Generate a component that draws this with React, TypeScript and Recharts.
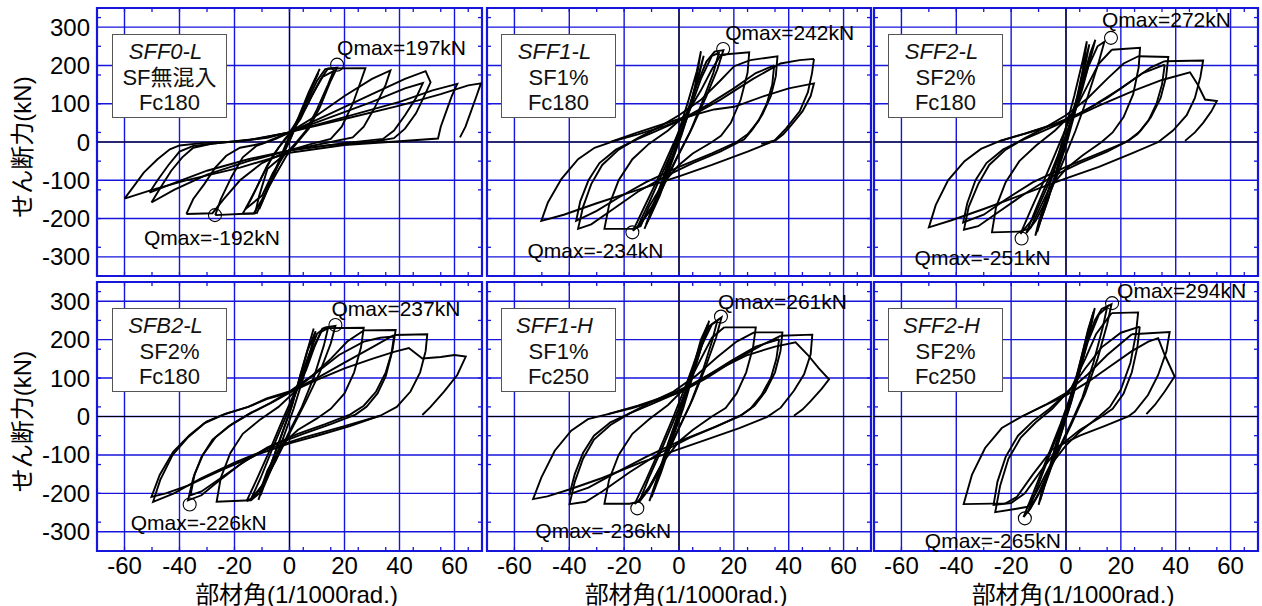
import React from 'react';
import { LineChart, Line, XAxis, YAxis, CartesianGrid, ReferenceLine, ReferenceArea, ReferenceDot } from 'recharts';

type Pt = [number, number];

// axis ticks
const ANGLE_TICKS = [-60, -40, -20, 0, 20, 40, 60];
const ANGLE_MINOR = [-65, -60, -55, -50, -45, -40, -35, -30, -25, -20, -15, -10, -5, 0, 5, 10, 15, 20, 25, 30, 35, 40, 45, 50, 55, 60, 65];
const SHEAR_TICKS = [-300, -200, -100, 0, 100, 200, 300];
const SHEAR_MINOR = [-325, -300, -275, -250, -225, -200, -175, -150, -125, -100, -75, -50, -25, 0, 25, 50, 75, 100, 125, 150, 175, 200, 225, 250, 275, 300, 325];

// specimen info
const SPECIMENS = ['SFF0-L', 'SFF1-L', 'SFF2-L', 'SFB2-L', 'SFF1-H', 'SFF2-H'];
const FIBER = ['SF無混入', 'SF1%', 'SF2%', 'SF2%', 'SF1%', 'SF2%'];
const STRENGTH = ['Fc180', 'Fc180', 'Fc180', 'Fc180', 'Fc250', 'Fc250'];
const QMAX_POS = [197, 242, 272, 237, 261, 294];
const QMAX_NEG = [-192, -234, -251, -226, -236, -265];
const QMAX_POS_AT: Pt[] = [[17.3, 202], [16.1, 243], [16.4, 272], [16.7, 238], [15.3, 260], [16.8, 295]];
const QMAX_NEG_AT: Pt[] = [[-27.1, -191], [-17, -236], [-16.2, -252], [-36.3, -229], [-15.2, -239], [-15, -265]];

// hysteresis loops, [rotation angle, shear force]
const SFF0L: Pt[][] = [
  [[-12, -188], [-9, -140], [-5, -70], [-1, 0], [3, 60], [7, 130], [11, 191], [9, 160], [5, 90], [1, 20], [-3, -40], [-7, -100], [-10, -155], [-12, -188]],
  [[-11, -175], [-8, -125], [-4, -55], [0, 10], [4, 75], [8, 140], [10.5, 180], [8.5, 150], [4.5, 80], [0.5, 10], [-3.5, -50], [-7.5, -115], [-11, -175]],
  [[-17, -187], [-14, -150], [-10, -90], [-6, -35], [-2, 5], [2, 40], [6, 100], [10, 160], [13, 190], [17.3, 194], [15, 160], [11, 90], [7, 35], [3, 0], [-1, -35], [-5, -85], [-10, -150], [-13, -187], [-17, -187]],
  [[-16, -175], [-12, -120], [-8, -60], [-4, -15], [0, 20], [4, 60], [8, 120], [12, 170], [16, 185], [14, 150], [10, 85], [6, 30], [2, -5], [-2, -35], [-6, -80], [-10, -140], [-16, -175]],
  [[-27, -191], [-25, -150], [-21, -90], [-17, -40], [-12, -10], [-5, 8], [0, 25], [6, 90], [11, 160], [14, 192], [27.6, 193], [26, 160], [23, 100], [19, 40], [15, 8], [8, -5], [0, -22], [-8, -70], [-11, -140], [-12.5, -186], [-27, -191]],
  [[-37.5, -188], [-35, -149], [-31, -110], [-27, -67], [-23, -36], [-18, -15], [-10, -4], [0, 25], [10, 70], [20, 120], [30, 165], [36.7, 187], [35, 150], [31, 90], [27, 40], [23, 12], [15, 0], [0, -22], [-10, -55], [-18, -100], [-24, -150], [-28, -186], [-37.5, -188]],
  [[-50.2, -158], [-47, -120], [-43, -75], [-39, -40], [-35, -15], [-28, -4], [-15, 5], [0, 25], [15, 75], [30, 125], [42, 165], [49.5, 185], [51.3, 156], [49, 120], [46, 75], [42, 35], [38, 10], [30, 0], [15, -8], [0, -22], [-15, -50], [-30, -85], [-42, -125], [-50.2, -158]],
  [[-50.9, -132], [-48, -100], [-44, -60], [-40, -25], [-35, -10], [-25, -2], [-12, 8], [0, 25], [15, 65], [30, 105], [42, 140], [48.5, 154], [46, 115], [42, 70], [38, 30], [34, 8], [20, -3], [0, -22], [-15, -45], [-30, -75], [-43, -110], [-50.9, -132]],
  [[-60, -148], [-57, -119], [-53, -80], [-48, -45], [-43.5, -19], [-40, -9], [-32, -3], [-20, 1], [-8, 11], [0, 26], [20, 65], [40, 105], [52, 135], [61, 152], [59, 120], [57, 80], [55, 40], [54, 9], [40, 2], [20, -8], [0, -28], [-18, -67], [-38, -101], [-50, -125], [-60, -148]],
  [[0, 26], [20, 60], [40, 95], [55, 125], [65, 148], [69.6, 153], [68, 120], [66, 80], [64, 40], [62, 12]],
];

const SFF1L: Pt[][] = [
  [[-12.6, -227], [-9, -165], [-5, -90], [-1, -15], [3, 65], [6, 150], [8, 237], [6.5, 185], [3.5, 110], [0, 30], [-4, -55], [-8, -140], [-11, -200], [-12.6, -227]],
  [[-12, -215], [-8.5, -150], [-4.5, -75], [-0.5, 0], [3.5, 80], [6.5, 160], [9, 225], [7.5, 180], [4.5, 100], [1, 20], [-3, -60], [-7, -140], [-10.5, -195], [-12, -215]],
  [[-16.8, -232], [-13, -175], [-8, -100], [-3, -20], [2, 60], [6, 140], [10, 210], [13, 236], [16.2, 240], [14, 190], [10, 120], [5, 40], [0, -30], [-5, -100], [-10, -170], [-14, -215], [-16.8, -232]],
  [[-15, -220], [-11, -160], [-6, -80], [-1, 0], [4, 85], [8, 165], [12, 225], [14.5, 232], [12.5, 180], [8.5, 105], [4, 25], [-1, -45], [-6, -120], [-11, -185], [-15, -220]],
  [[15.3, 228], [25.6, 234], [25, 181], [22.5, 111], [18.9, 50], [15.3, 16], [11.6, -2], [5, -30], [0, -60], [-6, -110], [-11, -170], [-14, -220], [-17, -227], [-27.2, -227], [-25.5, -165], [-22, -100], [-17, -45], [-11, -5], [-4, 30], [3, 75], [8, 135], [12, 190], [15.3, 228]],
  [[26, 214], [35.9, 224], [35.3, 172], [33.5, 120], [30.4, 72], [26.8, 33], [23.8, 7], [15, -25], [5, -55], [-5, -90], [-15, -130], [-25, -180], [-32, -215], [-36.8, -227], [-35, -170], [-32, -110], [-28, -60], [-22, -20], [-15, 10], [-7, 40], [0, 70], [8, 110], [15, 160], [20.1, 198], [26, 214]],
  [[34.7, 200], [34, 150], [32, 100], [29, 55], [25, 20], [21, 0], [12, -30], [0, -65], [-12, -105], [-22, -145], [-30, -180], [-37.5, -206], [-36, -155], [-33, -100], [-29, -55], [-23, -20], [-16, 5], [-8, 30], [0, 55], [10, 95], [20, 140], [28, 180], [34.7, 200]],
  [[49.2, 217], [48.5, 180], [47, 130], [44, 80], [39, 35], [34.7, 3], [25, -25], [12, -60], [0, -90], [-15, -125], [-30, -160], [-42, -190], [-50.2, -206], [-47.8, -158], [-42.9, -97], [-36.8, -45], [-30.8, -15], [-23.5, 3], [-15, 20], [-5, 42], [5, 70], [15, 110], [27, 165], [37, 205], [44, 214], [49.2, 217]],
  [[-25, 0], [-15, 25], [0, 60], [12.8, 85], [20.1, 92], [31, 120], [40, 140], [49.2, 153], [48, 120], [45, 80], [41, 45], [38, 20], [35.3, 5], [30, -5]],
];

const SFF2L: Pt[][] = [
  [[-11.2, -245], [-8, -180], [-4, -95], [0, -10], [3, 70], [6, 180], [7.6, 263], [6, 210], [3, 120], [0, 40], [-3, -40], [-7, -140], [-10, -210], [-11.2, -245]],
  [[-10.5, -235], [-7.5, -165], [-3.5, -80], [0.5, 10], [3.5, 100], [6.5, 200], [8.5, 255], [7, 200], [4, 110], [0.5, 20], [-3, -60], [-6.5, -150], [-9.5, -210], [-10.5, -235]],
  [[-16.6, -240], [-13, -180], [-8, -100], [-3, -15], [2, 70], [6, 160], [9, 235], [10.7, 267], [9, 220], [6, 140], [2, 50], [-2, -30], [-7, -120], [-12, -200], [-16.6, -240]],
  [[-14.5, -238], [-11, -175], [-6, -90], [-1, 0], [4, 100], [8, 195], [11.5, 250], [14, 262], [12, 210], [8, 120], [3.5, 30], [-1, -50], [-6, -135], [-11, -205], [-14.5, -238]],
  [[16.7, 241], [27, 246], [26.5, 195], [24.5, 125], [21, 65], [17, 25], [13, 0], [6, -35], [0, -70], [-6, -120], [-10, -180], [-13, -225], [-17, -234], [-27, -236], [-25.5, -170], [-22, -105], [-17, -50], [-11, -10], [-4, 30], [3, 80], [8, 150], [12, 205], [16.7, 241]],
  [[26.4, 224], [37.3, 222], [36.5, 170], [34.5, 115], [31, 65], [27, 28], [23, 5], [15, -25], [5, -55], [-5, -90], [-15, -135], [-25, -185], [-32, -220], [-37.2, -229], [-35.5, -170], [-32, -110], [-28, -60], [-22, -20], [-15, 10], [-7, 40], [0, 70], [8, 115], [15, 165], [21, 205], [26.4, 224]],
  [[36, 202], [35, 150], [33, 100], [30, 55], [26, 20], [22, 0], [12, -30], [0, -65], [-12, -105], [-22, -150], [-30, -190], [-37.5, -210], [-36, -160], [-33, -100], [-29, -55], [-23, -20], [-16, 5], [-8, 30], [0, 55], [10, 95], [20, 140], [28, 180], [36, 202]],
  [[36, 211], [50, 213], [49, 170], [47, 115], [44, 70], [39, 30], [33.7, 0], [24, -30], [12, -65], [0, -95], [-15, -135], [-30, -175], [-42, -205], [-50, -223], [-47.5, -165], [-43, -100], [-37, -50], [-31, -18], [-24, 3], [-15, 22], [-5, 45], [5, 75], [15, 115], [25, 165], [31, 195], [36, 211]],
  [[-24, 3], [-12, 28], [0, 55], [12, 95], [25, 135], [35, 162], [45.2, 182], [48, 150], [50.7, 111], [55, 107], [53, 80], [50, 50], [47, 25], [43.4, 3]],
];

const SFB2L: Pt[][] = [
  [[-11.3, -217], [-8, -150], [-4, -70], [0, 10], [3, 80], [6, 160], [8.8, 229], [7, 185], [4, 110], [1, 30], [-3, -50], [-7, -130], [-10, -190], [-11.3, -217]],
  [[-10.5, -205], [-7.5, -140], [-3.5, -60], [0.5, 20], [3.5, 95], [6.5, 170], [9.5, 222], [8, 180], [5, 100], [1.5, 20], [-2.5, -60], [-6.5, -135], [-9.5, -185], [-10.5, -205]],
  [[-15.6, -220], [-12, -165], [-7, -85], [-2, 0], [3, 80], [7, 160], [10, 215], [13, 232], [16.7, 236], [15, 190], [11, 115], [6, 40], [1, -30], [-4, -100], [-9, -170], [-13, -210], [-15.6, -220]],
  [[-14, -215], [-10.5, -160], [-6, -80], [-1, 5], [4, 90], [8, 170], [11.5, 220], [14, 230], [12.5, 185], [9, 105], [4.5, 25], [-0.5, -45], [-5, -115], [-10, -180], [-14, -215]],
  [[12, 230], [27, 231], [26, 180], [23.5, 115], [20, 60], [15, 20], [10, -5], [3, -35], [-3, -75], [-8, -140], [-11, -200], [-14, -218], [-26.5, -222], [-25, -160], [-21.5, -95], [-17, -45], [-11, -10], [-4, 25], [2, 65], [6, 120], [9, 180], [12, 230]],
  [[27, 224], [38.6, 225], [37.5, 175], [35, 115], [31.5, 65], [27, 28], [22, 5], [13, -20], [3, -45], [-8, -80], [-18, -125], [-27, -175], [-32, -205], [-36.9, -218], [-35, -160], [-32, -105], [-28, -60], [-22, -25], [-15, 5], [-7, 35], [0, 65], [8, 105], [15, 150], [21, 195], [27, 224]],
  [[38, 208], [37, 160], [35, 105], [32, 60], [28, 25], [24, 5], [15, -20], [5, -45], [-6, -75], [-16, -115], [-26, -165], [-32, -195], [-36, -205], [-34.5, -150], [-31.5, -100], [-27, -55], [-21, -20], [-14, 10], [-6, 38], [2, 70], [10, 115], [18, 160], [27, 195], [33, 205], [38, 208]],
  [[38, 212], [50.1, 214], [49.5, 170], [47.5, 115], [44, 65], [39, 25], [33, 2], [22, -25], [10, -50], [0, -70], [-12, -100], [-25, -140], [-37, -180], [-45, -200], [-50.2, -209], [-47.2, -152], [-42.3, -92], [-36.3, -48], [-30.2, -13], [-22.9, 8], [-15, 25], [-8.3, 47], [0, 65], [10, 100], [20, 140], [30, 180], [38, 212]],
  [[33, 2], [20, -25], [5, -55], [-8, -85], [-20, -120], [-32, -160], [-42, -200], [-49.6, -222], [-47, -165], [-42.5, -100], [-37, -55], [-31, -18], [-24, 5], [-15, 25], [-8.3, 45], [0, 62], [10, 95], [20, 125], [30, 150], [38, 168], [43.4, 178], [48.3, 151], [55, 155], [60, 160], [64.1, 156], [61, 108], [56.2, 65], [51.3, 25], [48.3, 4]],
];

const SFF1H: Pt[][] = [
  [[-10.8, -220], [-7.5, -150], [-4, -70], [0, 10], [4, 100], [8, 190], [11, 249], [9, 200], [5, 110], [1, 20], [-3, -60], [-7, -150], [-10.8, -220]],
  [[-10, -210], [-7, -145], [-3.5, -65], [0.5, 20], [4.5, 110], [8, 200], [10.5, 240], [8.5, 190], [5, 105], [1.5, 20], [-2.5, -60], [-6.5, -145], [-10, -210]],
  [[-16.2, -228], [-12, -165], [-7, -85], [-2, 0], [3, 90], [7, 170], [11, 235], [15.5, 258], [13.5, 205], [9.5, 125], [5, 45], [0, -30], [-5, -105], [-10, -175], [-14, -215], [-16.2, -228]],
  [[-14.5, -222], [-11, -160], [-6, -80], [-1, 5], [4, 95], [8, 180], [12, 240], [14, 250], [12, 195], [8.5, 115], [4, 30], [-1, -45], [-6, -125], [-11, -190], [-14.5, -222]],
  [[16.5, 232], [28, 232], [27, 180], [24.5, 115], [21, 60], [17, 22], [12, 0], [5, -35], [0, -65], [-6, -120], [-11, -185], [-15, -222], [-18, -227], [-27.2, -227], [-25.5, -165], [-22, -100], [-17, -45], [-11, -8], [-4, 30], [3, 80], [8, 150], [12, 205], [16.5, 232]],
  [[27.4, 219], [37.7, 219], [37, 170], [35, 115], [31.5, 65], [27.5, 28], [23, 5], [14, -25], [4, -55], [-7, -95], [-18, -145], [-28, -195], [-34, -222], [-39.9, -228], [-38, -170], [-35, -110], [-31, -60], [-25, -22], [-18, 8], [-10, 38], [-2, 65], [6, 105], [14, 155], [21, 195], [27.4, 219]],
  [[36.5, 201], [35.5, 150], [33.5, 100], [30, 55], [26, 20], [22, 0], [12, -30], [0, -65], [-12, -105], [-24, -150], [-33, -185], [-39.9, -202], [-38, -150], [-35, -95], [-31, -50], [-25, -15], [-18, 8], [-10, 32], [-1, 60], [9, 100], [19, 145], [28, 182], [36.5, 201]],
  [[37, 210], [48.6, 213], [48, 162], [45.6, 110], [41.9, 67], [37.1, 23], [32.2, -1], [22, -30], [10, -60], [0, -85], [-14, -120], [-28, -160], [-40, -190], [-48, -208], [-53.2, -215], [-50.2, -159], [-45.3, -89], [-39.3, -37], [-33.2, -7], [-25.9, 6], [-17, 22], [-8, 42], [1, 65], [10, 100], [20, 145], [30, 185], [37, 210]],
  [[-25.9, 6], [-15, 28], [-5, 52], [5, 85], [15, 125], [25, 160], [35, 182], [42.5, 193], [47, 160], [51, 125], [54.7, 97], [52, 72], [48, 40], [45, 18], [41.9, 2]],
];

const SFF2H: Pt[][] = [
  [[-10, -230], [-7, -160], [-4, -80], [0, 10], [4, 110], [8, 220], [10.5, 282], [9, 230], [5.5, 130], [2, 40], [-2, -50], [-6, -140], [-9, -200], [-10, -230]],
  [[-9.5, -220], [-6.5, -150], [-3.5, -70], [0.5, 20], [4.5, 120], [8, 225], [10, 272], [8.5, 220], [5, 120], [1.5, 30], [-2.5, -60], [-6, -145], [-9, -205], [-9.5, -220]],
  [[-15.5, -262], [-12, -200], [-7, -110], [-2, -20], [3, 80], [7, 180], [10.5, 250], [13, 280], [16.6, 292], [15, 240], [11.5, 150], [7, 60], [2, -20], [-4, -110], [-9, -190], [-13, -240], [-15.5, -262]],
  [[-14, -250], [-10.5, -185], [-6, -100], [-1, -10], [4, 95], [8, 195], [12, 265], [15, 285], [13.5, 235], [10, 140], [6, 50], [1, -30], [-5, -120], [-10, -200], [-14, -250]],
  [[16.6, 269], [26.3, 271], [25.5, 215], [23.5, 140], [20, 70], [16, 25], [12, 0], [5, -40], [0, -75], [-6, -130], [-11, -200], [-14, -235], [-18, -240], [-25.8, -249], [-24, -180], [-21, -110], [-16.5, -55], [-11, -15], [-5, 20], [2, 75], [7, 150], [11, 215], [16.6, 269]],
  [[26.9, 234], [26, 180], [24, 115], [21, 60], [17, 20], [13, 0], [5, -35], [-2, -75], [-9, -140], [-15, -200], [-20, -225], [-26.4, -230], [-25, -170], [-22, -105], [-17.5, -50], [-12, -12], [-6, 20], [1, 65], [7, 125], [13, 180], [20, 218], [26.9, 234]],
  [[24, 214], [37.8, 220], [36.6, 169], [33.6, 108], [29.9, 56], [25.1, 13], [22.7, 0], [14, -25], [5, -50], [-5, -85], [-12, -150], [-18, -210], [-22, -226], [-37.3, -228], [-34.3, -152], [-29.5, -82], [-23.4, -30], [-16.1, 0], [-7.6, 30], [0, 61], [8, 110], [15, 160], [24, 214]],
  [[-16.1, 0], [-8, 28], [0, 55], [8, 90], [16, 130], [24, 170], [30, 195], [33.6, 204], [36, 160], [39.6, 104], [36, 65], [32.4, 30], [29.3, 6]],
];

const LOOPS = [SFF0L, SFF1L, SFF2L, SFB2L, SFF1H, SFF2H];

// layout
const COL_LEFT = [97, 486, 873];
const ROW_TOP = [8, 282];
const PW = 385;
const PH = 269;
const M = 4;
const YAXIS_W = 93;
const XAXIS_H = 55;
const BLUE = '#1515dc';
const FONT = "'Liberation Sans', Arial, 'Noto Sans CJK JP', sans-serif";

// label offsets of the Qmax texts, in px from the circle centre
const POS_LABEL_OFF = [[0, -17, 'start'], [2, -16, 'start'], [-9, -18, 'start'], [-4, -17, 'start'], [-3, -15, 'start'], [5, -13, 'start']];
const NEG_LABEL_OFF = [[-3, 22, 'middle'], [-37, 18, 'middle'], [-39, 19, 'middle'], [9, 18, 'middle'], [-34, 22, 'middle'], [-32, 22, 'middle']];

const noTick = () => <g />;

function qLabel(text: string, dx: number, dy: number, anchor: string) {
  return (props: any) => {
    const vb = props.viewBox || {};
    const cx = vb.x + vb.width / 2;
    const cy = vb.y + vb.height / 2;
    return (
      <text x={cx + dx} y={cy + dy} textAnchor={anchor as any} dominantBaseline="central" fontSize={21} fill="#000" fontFamily={FONT}>
        {text}
      </text>
    );
  };
}

const yTitle = (props: any) => {
  const vb = props.viewBox;
  const x = vb.x + 18;
  const y = vb.y + vb.height / 2 + 5;
  return (
    <text x={x} y={y} transform={`rotate(-90, ${x}, ${y})`} textAnchor="middle" dominantBaseline="central" fontSize={24} fill="#000" fontFamily={FONT}>
      せん断力(kN)
    </text>
  );
};

const xTitle = (props: any) => {
  const vb = props.viewBox;
  return (
    <text x={vb.x + vb.width / 2 + 7} y={vb.y + 43} textAnchor="middle" dominantBaseline="central" fontSize={24} fill="#000" fontFamily={FONT}>
      部材角(1/1000rad.)
    </text>
  );
};

function Panel({ idx }: { idx: number }) {
  const row = Math.floor(idx / 3);
  const col = idx % 3;
  const showY = col === 0;
  const showX = row === 1;
  const width = PW + 2 * M + (showY ? YAXIS_W : 0);
  const height = PH + M + (showX ? XAXIS_H : M);
  const left = COL_LEFT[col] - M - (showY ? YAXIS_W : 0);
  const top = ROW_TOP[row] - M;
  const tickStyle = { fontSize: 24, fill: '#000', fontFamily: FONT };
  const pOff = POS_LABEL_OFF[idx];
  const nOff = NEG_LABEL_OFF[idx];
  const minorLine = { stroke: BLUE, strokeWidth: 1.3 };

  return (
    <div style={{ position: 'absolute', left, top }}>
      <LineChart width={width} height={height} margin={{ top: M, right: M, left: M, bottom: showX ? 0 : M }}>
        <CartesianGrid stroke={BLUE} strokeWidth={1.4} verticalValues={ANGLE_TICKS} horizontalValues={SHEAR_TICKS} />
        <XAxis
          type="number"
          dataKey="x"
          domain={[-70, 70]}
          allowDataOverflow
          ticks={ANGLE_TICKS}
          axisLine={false}
          tickLine={false}
          tick={showX ? tickStyle : noTick}
          tickSize={0}
          tickMargin={6}
          height={showX ? XAXIS_H : 1}
          label={showX ? xTitle : undefined}
        />
        <XAxis xAxisId="minorB" type="number" dataKey="x" domain={[-70, 70]} allowDataOverflow ticks={ANGLE_MINOR} orientation="bottom" mirror height={1} axisLine={false} tick={noTick} tickSize={4} tickLine={minorLine} />
        <XAxis xAxisId="minorT" type="number" dataKey="x" domain={[-70, 70]} allowDataOverflow ticks={ANGLE_MINOR} orientation="top" mirror height={1} axisLine={false} tick={noTick} tickSize={4} tickLine={minorLine} />
        <YAxis
          type="number"
          domain={[-350, 350]}
          allowDataOverflow
          ticks={SHEAR_TICKS}
          axisLine={false}
          tickLine={false}
          tick={showY ? tickStyle : noTick}
          tickSize={0}
          tickMargin={7}
          width={showY ? YAXIS_W : 1}
          label={showY ? yTitle : undefined}
        />
        <YAxis yAxisId="minorL" type="number" domain={[-350, 350]} allowDataOverflow ticks={SHEAR_MINOR} orientation="left" mirror width={1} axisLine={false} tick={noTick} tickSize={4} tickLine={minorLine} />
        <YAxis yAxisId="minorR" type="number" domain={[-350, 350]} allowDataOverflow ticks={SHEAR_MINOR} orientation="right" mirror width={1} axisLine={false} tick={noTick} tickSize={4} tickLine={minorLine} />
        <ReferenceArea x1={-70} x2={70} y1={-350} y2={350} fill="none" stroke={BLUE} strokeWidth={2.2} fillOpacity={0} />
        <ReferenceLine x={0} stroke="#000" strokeWidth={1.2} />
        <ReferenceLine y={0} stroke="#000" strokeWidth={1.2} />
        {LOOPS[idx].map((loop, i) => (
          <Line
            key={i}
            data={loop.map(([x, y]) => ({ x, y }))}
            dataKey="y"
            type="linear"
            stroke="#000"
            strokeWidth={1.9}
            dot={false}
            activeDot={false}
            isAnimationActive={false}
          />
        ))}
        <ReferenceDot x={QMAX_POS_AT[idx][0]} y={QMAX_POS_AT[idx][1]} r={6.5} fill="none" stroke="#000" strokeWidth={1.1}
          label={qLabel(`Qmax=${QMAX_POS[idx]}kN`, pOff[0] as number, pOff[1] as number, pOff[2] as string)} />
        <ReferenceDot x={QMAX_NEG_AT[idx][0]} y={QMAX_NEG_AT[idx][1]} r={6.5} fill="none" stroke="#000" strokeWidth={1.1}
          label={qLabel(`Qmax=${QMAX_NEG[idx]}kN`, nOff[0] as number, nOff[1] as number, nOff[2] as string)} />
      </LineChart>
    </div>
  );
}

function InfoBox({ idx }: { idx: number }) {
  const row = Math.floor(idx / 3);
  const col = idx % 3;
  return (
    <div
      style={{
        position: 'absolute',
        left: COL_LEFT[col] + 15,
        top: ROW_TOP[row] + 26,
        width: 115,
        height: 84,
        boxSizing: 'border-box',
        border: '1.5px solid #555',
        background: '#fff',
        textAlign: 'center',
        fontSize: 22,
        lineHeight: '25.5px',
        paddingTop: 4,
        fontFamily: FONT,
        color: '#111',
      }}
    >
      <div style={{ fontStyle: 'italic', position: 'relative', left: -4 }}>{SPECIMENS[idx]}</div>
      <div>{FIBER[idx]}</div>
      <div>{STRENGTH[idx]}</div>
    </div>
  );
}

export default function App() {
  return (
    <div style={{ position: 'relative', width: 1262, height: 606, background: '#fff', fontFamily: FONT, overflow: 'hidden' }}>
      <style>{'body{margin:0}'}</style>
      {[0, 1, 2, 3, 4, 5].map((i) => (
        <Panel key={i} idx={i} />
      ))}
      {[0, 1, 2, 3, 4, 5].map((i) => (
        <InfoBox key={`b${i}`} idx={i} />
      ))}
    </div>
  );
}
